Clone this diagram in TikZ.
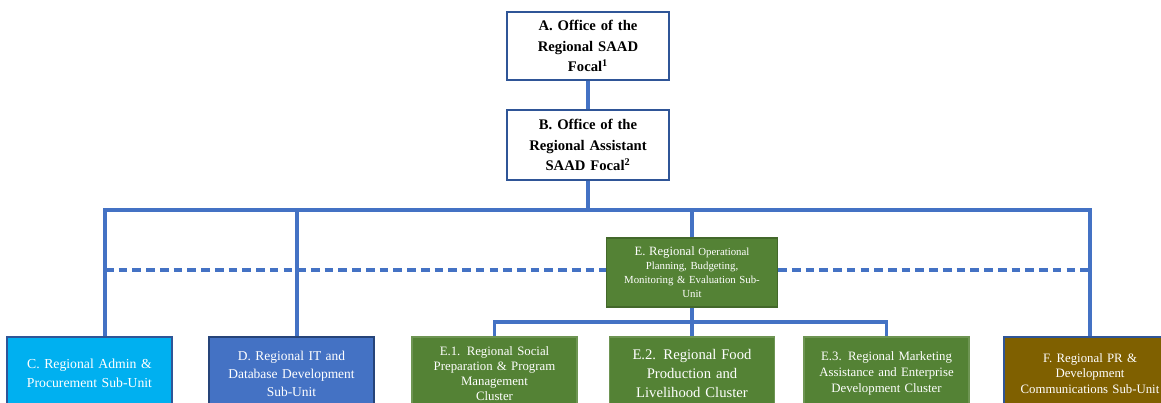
\documentclass[tikz,border=0pt]{standalone}
\usepackage{fontspec}
\setmainfont{Liberation Serif}
\usetikzlibrary{positioning,calc}
\definecolor{linkblue}{HTML}{4472C4}
\definecolor{edgeblue}{HTML}{2F5597}
\definecolor{admincyan}{HTML}{00B0F0}
\definecolor{itblue}{HTML}{4472C4}
\definecolor{clustgreen}{HTML}{548235}
\definecolor{prbrown}{HTML}{7F6000}
\tikzset{
  box/.style={draw, align=center, inner sep=2pt, line width=1.2pt},
  head/.style={box, draw=edgeblue, fill=white, font=\bfseries\fontsize{11}{15.5}\selectfont,
    minimum width=121.5pt, text width=115pt},
  unit/.style={box, text=white, minimum width=122pt, text width=120pt, minimum height=54.75pt,
    font=\fontsize{10.3}{14}\selectfont},
  conn/.style={draw=linkblue, line width=2.3pt},
  dashconn/.style={conn, dash pattern=on 6.5pt off 3.8pt},
}
\begin{document}
\begin{tikzpicture}[x=0.75pt, y=-0.75pt]
  \useasboundingbox (0,0) rectangle (1161,403);
  \clip (0,0) rectangle (1161,403);
  % top offices
  \node[head, minimum height=51pt] (A) at (588,46) {A. Office of the\\Regional SAAD\\Focal\textsuperscript{1}};
  \node[head, minimum height=52.5pt] (B) at (588,145) {B. Office of the\\Regional Assistant\\SAAD Focal\textsuperscript{2}};
  % planning sub-unit
  \node[box, draw=clustgreen!80!black, fill=clustgreen, text=white, minimum width=124.5pt, text width=124pt,
    minimum height=51.75pt, font=\fontsize{8.1}{10.5}\selectfont] (E) at (692,272.5)
    {{\fontsize{9.5}{10.5}\selectfont E. Regional} Operational\\Planning, Budgeting,\\Monitoring \& Evaluation Sub-\\Unit};
  % sub-units and clusters
  \node[unit, draw=edgeblue, fill=admincyan] (C) at (89.5,373.5) {C. Regional Admin \&\\Procurement Sub-Unit};
  \node[unit, draw=edgeblue!80!black, fill=itblue, font=\fontsize{10.1}{13.5}\selectfont] (D) at (291.5,373.5) {D. Regional IT and\\Database Development\\Sub-Unit};
  \node[unit, draw=clustgreen!85!white, fill=clustgreen, font=\fontsize{9.6}{11.3}\selectfont] (E1) at (494.5,373.5)
    {E.1. Regional Social\\Preparation \& Program\\Management\\Cluster};
  \node[unit, draw=clustgreen!85!white, fill=clustgreen, font=\fontsize{11}{14.5}\selectfont] (E2) at (692,373.5)
    {E.2. Regional Food\\Production and\\Livelihood Cluster};
  \node[unit, draw=clustgreen!85!white, fill=clustgreen, font=\fontsize{9.6}{11.8}\selectfont] (E3) at (886.5,373.5)
    {E.3. Regional Marketing\\Assistance and Enterprise\\Development Cluster};
  \node[unit, draw=edgeblue, fill=prbrown, minimum width=129pt, text width=122pt, font=\fontsize{9.6}{11.8}\selectfont] (F) at (1090,373.5)
    {F. Regional PR \&\\Development\\Communications Sub-Unit};
  % connectors
  \coordinate (bus) at (588,210);
  \coordinate (sub) at (692,322);
  \draw[conn] (A.south) -- (B.north);
  \draw[conn] (B.south) -- (bus);
  \draw[conn] ([xshift=11.6pt]C.north) |- (bus) -| (F.north);
  \draw[conn] ([xshift=4.1pt]D.north) -- ([xshift=4.1pt]D.north |- bus);
  \draw[conn] (E.north) -- (E.north |- bus);
  \draw[dashconn] ([xshift=11.6pt]C.north |- 0,270) -- (E.west |- 0,270);
  \draw[dashconn] (E.east |- 0,270) -- (F.north |- 0,270);
  \draw[conn] (E.south) -- (sub);
  \draw[conn] (E1.north) |- (sub) -| (E3.north);
  \draw[conn] (sub) -- (E2.north);
\end{tikzpicture}
\end{document}
